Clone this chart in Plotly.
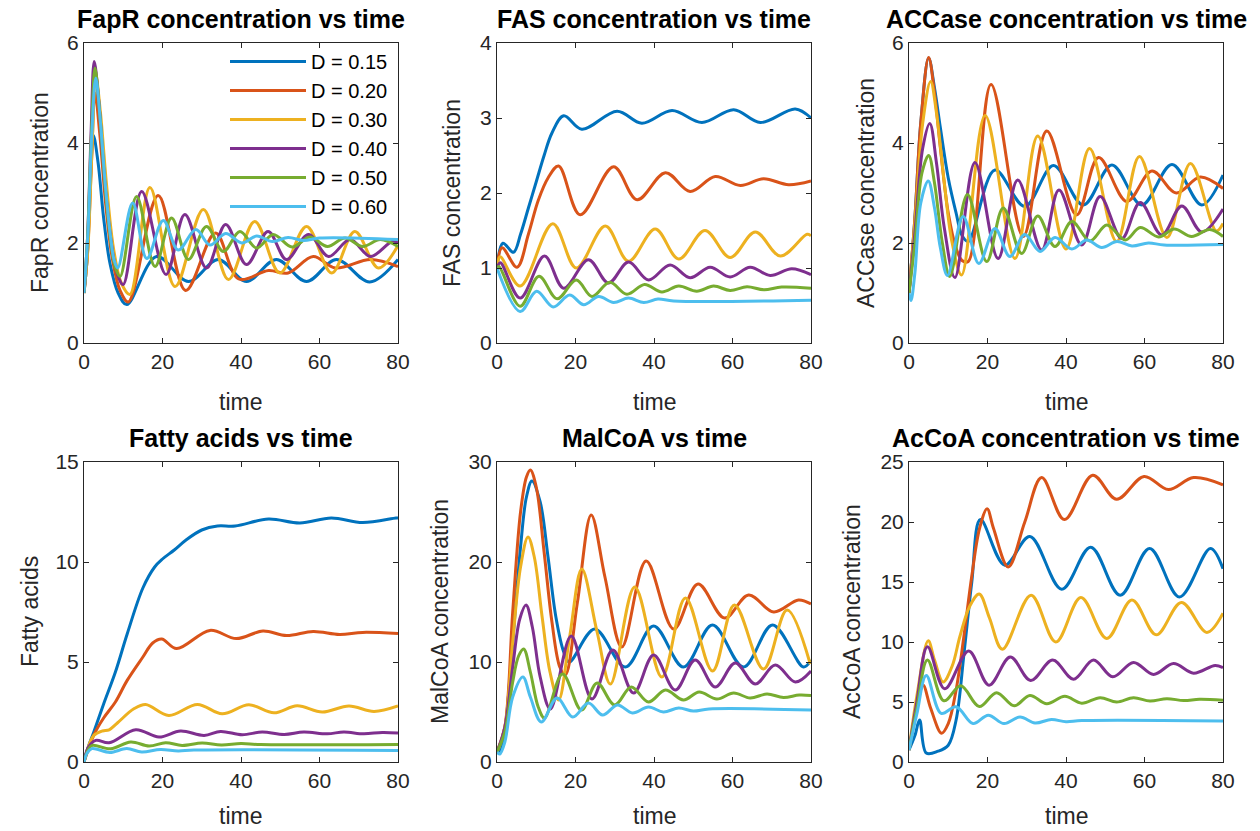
import plotly.graph_objects as go

D_LABELS = ["D = 0.15", "D = 0.20", "D = 0.30", "D = 0.40", "D = 0.50", "D = 0.60"]
COLORS = ["#0072BD", "#D95319", "#EDB120", "#7E2F8E", "#77AC30", "#4DBEEE"]

# ---------------- FapR ----------------
fapr_t_015 = [0, 0.8, 1.6, 2.4, 3.6, 5.0, 6.6, 8.7, 10.9, 18.5, 26.6, 34.2, 41.4, 49.0, 56.7, 64.3, 72.8, 80]
fapr_y_015 = [1.0, 1.7, 3.2, 4.15, 3.6, 2.5, 1.6, 1.0, 0.77, 1.73, 1.23, 1.67, 1.23, 1.67, 1.23, 1.67, 1.22, 1.67]
fapr_t_020 = [0, 0.9, 1.9, 2.8, 4.0, 5.5, 7.2, 9.2, 11.3, 18.9, 25.9, 33.5, 39.4, 47, 52, 58.4, 64, 73, 80]
fapr_y_020 = [1.0, 1.8, 3.6, 5.0, 4.2, 2.8, 1.7, 1.05, 0.82, 2.95, 1.05, 2.2, 1.28, 1.45, 1.4, 1.73, 1.5, 1.67, 1.53]
fapr_t_030 = [0, 1, 2, 3, 4.2, 5.7, 7.5, 9.5, 11.7, 16.8, 23.2, 30.4, 36.8, 43.5, 49.9, 56.7, 63.1, 69, 75, 80]
fapr_y_030 = [1.0, 1.9, 3.8, 5.35, 4.6, 3.2, 1.9, 1.2, 0.97, 3.11, 1.13, 2.67, 1.27, 2.43, 1.4, 2.33, 1.4, 2.23, 1.5, 1.95]
fapr_t_040 = [0, 0.9, 1.8, 2.6, 3.8, 5.2, 6.8, 8.4, 10, 14.7, 20.9, 25.7, 31.2, 36.1, 41.4, 46.9, 51.6, 57.2, 62.3, 67.8, 73, 78.5, 80]
fapr_y_040 = [1.0, 2.1, 4.2, 5.63, 4.8, 3.3, 2.1, 1.4, 1.17, 3.03, 1.37, 2.57, 1.5, 2.37, 1.57, 2.23, 1.67, 2.17, 1.73, 2.07, 1.73, 2.03, 2.0]
fapr_t_050 = [0, 0.9, 1.9, 2.8, 4, 5.3, 6.7, 8, 9.2, 13.4, 18.1, 22.3, 26.6, 31.2, 35.5, 39.7, 44, 48.2, 53, 57.6, 62, 66.5, 71, 75.5, 80]
fapr_y_050 = [1.0, 2.1, 4.2, 5.5, 4.6, 3.2, 2.1, 1.5, 1.33, 2.93, 1.53, 2.5, 1.67, 2.33, 1.83, 2.23, 1.9, 2.17, 1.92, 2.12, 1.93, 2.1, 1.93, 2.07, 1.93]
fapr_t_060 = [0, 1, 2, 3, 4.2, 5.5, 6.8, 7.7, 8.6, 12.4, 16, 20.2, 24, 28.5, 32.1, 36.1, 40.2, 44, 48, 52, 56, 60, 80]
fapr_y_060 = [1.0, 2.2, 4.2, 5.3, 4.4, 3.1, 2.1, 1.65, 1.5, 2.8, 1.69, 2.45, 1.86, 2.27, 1.96, 2.19, 2.0, 2.14, 2.03, 2.11, 2.05, 2.1, 2.07]

# ---------------- FAS ----------------
fas_t_015 = [0, 1.5, 4.2, 6, 8, 10, 12, 14, 17, 21.6, 30.6, 36.9, 44.6, 52.2, 60.3, 67.1, 76, 80]
fas_y_015 = [1.0, 1.33, 1.21, 1.45, 1.8, 2.15, 2.5, 2.8, 3.03, 2.85, 3.09, 2.93, 3.1, 2.94, 3.11, 2.94, 3.12, 3.0]
fas_t_020 = [0, 1.3, 5.1, 8, 10.5, 13, 15.7, 21.2, 29.7, 35.7, 42.9, 49.2, 55.6, 62, 67.9, 74.3, 80]
fas_y_020 = [1.0, 1.27, 1.01, 1.45, 1.9, 2.2, 2.36, 1.71, 2.35, 1.91, 2.27, 2.02, 2.22, 2.1, 2.19, 2.11, 2.16]
fas_t_030 = [0, 0.8, 5.9, 14.2, 20.2, 27.6, 33.5, 40.3, 46.3, 53, 59.4, 65.8, 72.2, 79, 80]
fas_y_030 = [1.0, 1.15, 0.76, 1.59, 1.0, 1.56, 1.09, 1.52, 1.12, 1.5, 1.14, 1.48, 1.16, 1.45, 1.43]
fas_t_040 = [0, 0.85, 5.9, 12.1, 17, 23.3, 28.4, 33.5, 38.6, 44.1, 49.2, 54.3, 59.4, 64.5, 69.6, 75.1, 80]
fas_y_040 = [1.0, 1.07, 0.6, 1.16, 0.73, 1.11, 0.8, 1.08, 0.84, 1.04, 0.87, 1.01, 0.88, 1.01, 0.9, 0.99, 0.91]
fas_t_050 = [0, 0.5, 5.9, 10.7, 15.3, 20.2, 24.2, 28.7, 33.1, 37.6, 42, 46.3, 50.9, 55.2, 59.4, 63.7, 68, 72.5, 80]
fas_y_050 = [1.0, 1.02, 0.49, 0.89, 0.59, 0.84, 0.62, 0.81, 0.65, 0.78, 0.68, 0.76, 0.69, 0.76, 0.7, 0.75, 0.71, 0.745, 0.73]
fas_t_060 = [0, 5.9, 10.1, 14.3, 18.5, 22.1, 25.9, 29.7, 33.5, 37.4, 41, 45, 80]
fas_y_060 = [1.0, 0.42, 0.69, 0.48, 0.64, 0.51, 0.62, 0.54, 0.6, 0.54, 0.585, 0.56, 0.57]

# ---------------- ACCase ----------------
acc_t_015 = [0, 1.5, 3, 5, 6.5, 8, 10, 12, 13.5, 15.1, 21.9, 29.5, 36.8, 44.4, 51.7, 59.3, 67, 74.6, 80]
acc_y_015 = [1.0, 2.5, 4.4, 5.7, 5.1, 4.3, 3.3, 2.6, 2.15, 2.03, 3.46, 2.73, 3.55, 2.76, 3.56, 2.76, 3.57, 2.76, 3.36]
acc_t_020 = [0, 1.5, 3, 5, 6.5, 8, 10, 12, 13.5, 15.1, 20.9, 29.1, 35.1, 42.7, 48.3, 55.5, 61.9, 68.1, 74.2, 80]
acc_y_020 = [1.0, 2.5, 4.4, 5.71, 5.0, 3.9, 2.6, 1.9, 1.65, 1.63, 5.17, 2.13, 4.24, 2.56, 3.71, 2.83, 3.44, 3.0, 3.32, 3.09]
acc_t_030 = [0, 1.5, 3.5, 5.5, 7, 9, 11, 13.4, 19.4, 27, 32.8, 40, 46, 52.9, 58.7, 65.7, 71.7, 78.3, 80]
acc_y_030 = [1.0, 2.4, 4.4, 5.23, 4.6, 3.2, 2.0, 1.36, 4.55, 1.69, 4.14, 1.88, 3.89, 2.03, 3.73, 2.11, 3.59, 2.24, 2.39]
acc_t_040 = [0, 1.5, 3.5, 5.3, 7, 9, 11.7, 16.8, 22.7, 27.7, 33.8, 38.2, 44, 48.7, 54.2, 58.9, 64.4, 69.5, 74.6, 80]
acc_y_040 = [1.0, 2.2, 3.9, 4.39, 3.6, 2.3, 1.31, 3.61, 1.69, 3.26, 1.86, 3.06, 1.96, 2.93, 2.09, 2.81, 2.16, 2.74, 2.22, 2.68]
acc_t_050 = [0, 1.5, 3.3, 5, 6.5, 8.5, 10.4, 14.9, 19.8, 24, 28.7, 32.8, 37.2, 41.5, 46.1, 50.4, 55.1, 58.9, 63.6, 67.6, 72, 76.6, 80]
acc_y_050 = [1.0, 2.0, 3.4, 3.75, 3.2, 2.0, 1.33, 2.97, 1.63, 2.7, 1.79, 2.54, 1.93, 2.43, 2.04, 2.36, 2.06, 2.31, 2.12, 2.28, 2.13, 2.27, 2.13]
acc_t_060 = [0, 0.5, 1.5, 3, 4.9, 6.5, 8, 9.8, 13.8, 17.8, 21.9, 25.7, 29.5, 33.4, 37.2, 41.5, 45.3, 49.1, 53, 56.8, 61, 65, 80]
acc_y_060 = [1.0, 0.85, 1.4, 2.8, 3.24, 2.7, 1.9, 1.35, 2.53, 1.59, 2.29, 1.73, 2.17, 1.83, 2.11, 1.88, 2.06, 1.91, 2.03, 1.94, 2.0, 1.96, 1.97]

# ---------------- Fatty acids ----------------
fa_t_015 = [0, 1, 2.5, 5, 8, 11, 15, 18, 20, 23, 26, 30, 34, 38.5, 47, 55, 63, 71, 79.5, 80]
fa_y_015 = [0.0, 0.7, 1.5, 2.9, 4.5, 6.4, 8.7, 9.75, 10.15, 10.6, 11.1, 11.6, 11.8, 11.8, 12.15, 11.95, 12.2, 11.97, 12.2, 12.2]
fa_t_020 = [0, 2.5, 5, 8, 11, 15, 17.5, 19.8, 23.6, 32.1, 38.8, 45.6, 51.6, 58.4, 65.1, 71, 80]
fa_y_020 = [0.0, 1.35, 2.2, 3.0, 4.08, 5.25, 5.95, 6.15, 5.67, 6.58, 6.17, 6.55, 6.32, 6.53, 6.38, 6.48, 6.42]
fa_t_030 = [0, 1, 2.5, 4.7, 6.4, 8.5, 12.7, 15.7, 21.6, 28.9, 35.2, 42, 48.4, 54.3, 60.7, 67.5, 73.9, 80]
fa_y_030 = [0.0, 0.7, 1.33, 1.55, 1.61, 1.95, 2.66, 2.88, 2.33, 2.88, 2.41, 2.86, 2.46, 2.81, 2.5, 2.8, 2.53, 2.8]
fa_t_040 = [0, 1, 3, 6.4, 13.2, 19.1, 24.6, 30.6, 34.8, 40.3, 45.4, 51, 56, 62, 66.2, 71.3, 76, 80]
fa_y_040 = [0.0, 0.7, 1.08, 0.96, 1.61, 1.25, 1.55, 1.33, 1.53, 1.36, 1.5, 1.38, 1.5, 1.41, 1.5, 1.41, 1.48, 1.45]
fa_t_050 = [0, 1, 2.1, 6.8, 11.9, 16.6, 20.8, 25, 30.1, 35, 40, 45, 80]
fa_y_050 = [0.0, 0.6, 0.83, 0.66, 1.0, 0.8, 0.96, 0.83, 0.95, 0.85, 0.92, 0.87, 0.88]
fa_t_060 = [0, 0.8, 2, 6.6, 10.9, 14.7, 19.5, 24, 28, 80]
fa_y_060 = [0.0, 0.45, 0.67, 0.48, 0.67, 0.5, 0.63, 0.55, 0.6, 0.58]

# ---------------- MalCoA ----------------
mal_t_015 = [0, 1, 2, 4, 6, 7.5, 8.9, 11, 13, 15, 17, 18.4, 24.9, 32.7, 39.9, 47.5, 54.9, 62.8, 70.2, 78.1, 80]
mal_y_015 = [1.0, 1.2, 3.0, 12.0, 21.5, 26.5, 28.1, 26.0, 20.5, 14.5, 11.0, 10.0, 13.3, 9.5, 13.6, 9.5, 13.7, 9.5, 13.7, 9.5, 10.2]
mal_t_020 = [0, 2, 4, 6, 7.5, 8.5, 10, 12, 14, 16, 17.4, 20.5, 24, 27.5, 31.8, 38, 45, 51.2, 58, 64.1, 70.5, 76.8, 80]
mal_y_020 = [1.0, 3.5, 15.0, 25.0, 28.5, 29.2, 27.5, 21.0, 14.0, 9.5, 8.7, 16.0, 24.7, 18.5, 11.5, 20.1, 13.3, 17.8, 14.4, 16.7, 15.0, 16.2, 15.8]
mal_t_030 = [0, 2, 4, 6, 7.9, 9.5, 11.5, 13.5, 15.7, 18.5, 21.6, 25.5, 28.9, 35.1, 42, 48, 54.9, 60.5, 67.9, 73.9, 79.8]
mal_y_030 = [1.0, 3.5, 12.0, 19.5, 22.5, 20.5, 14.5, 9.0, 6.2, 12.5, 19.3, 13.0, 7.8, 17.5, 8.5, 16.4, 9.1, 15.7, 9.3, 15.2, 9.8]
mal_t_040 = [0, 2, 4, 5.8, 7.4, 9, 11, 13.6, 18.9, 24.2, 29.5, 34.8, 39.9, 45.4, 50.5, 55.6, 60.7, 65.8, 70.9, 76, 80]
mal_y_040 = [1.0, 3.5, 9.5, 14.3, 15.7, 13.5, 8.5, 5.3, 12.6, 6.3, 11.2, 6.9, 10.7, 7.2, 10.2, 7.5, 9.9, 7.8, 9.7, 8.0, 9.1]
mal_t_050 = [0, 2, 4, 5.5, 6.8, 8.5, 10.5, 12.1, 16.7, 21.5, 25.5, 30, 34.2, 38.6, 42.9, 47.5, 51.5, 56, 60.3, 64.5, 68.8, 73, 77, 80]
mal_y_050 = [1.0, 3.0, 8.0, 10.6, 11.3, 9.0, 5.5, 4.4, 8.8, 5.2, 7.9, 5.7, 7.5, 6.0, 7.2, 6.2, 7.0, 6.3, 6.9, 6.4, 6.8, 6.45, 6.7, 6.65]
mal_t_060 = [0, 0.7, 2, 4, 6.6, 8.5, 11.3, 15.3, 19.3, 23.3, 26.9, 30.7, 34.5, 38.6, 42.4, 46.3, 50, 54, 80]
mal_y_060 = [1.0, 0.8, 2.0, 6.5, 8.5, 6.5, 4.0, 6.4, 4.5, 5.9, 4.7, 5.7, 4.9, 5.5, 5.0, 5.4, 5.1, 5.3, 5.2]

# ---------------- AcCoA ----------------
aca_t_015 = [0, 1.5, 2.7, 4.4, 7.4, 10, 12, 14, 16, 18.2, 24.4, 30.8, 38.9, 46.3, 53.8, 61.3, 68.9, 76.8, 80]
aca_y_015 = [1.0, 2.2, 3.5, 0.75, 0.9, 1.4, 3.5, 9.0, 15.0, 20.2, 16.4, 18.8, 14.4, 17.9, 13.9, 17.8, 13.75, 17.8, 16.1]
aca_t_020 = [0, 2, 3.6, 5.5, 8.3, 10, 12, 14, 16, 18, 19.9, 21.5, 25.3, 29.5, 33.8, 39.6, 46.8, 52.9, 59.9, 66.1, 72.5, 80]
aca_y_020 = [1.0, 4.5, 6.4, 4.5, 2.4, 3.2, 6.0, 10.5, 15.5, 19.5, 21.1, 19.5, 16.25, 20.0, 23.7, 20.2, 23.9, 21.9, 23.8, 22.7, 23.7, 23.1]
aca_t_030 = [0, 2, 4.9, 6.5, 8.7, 11, 13, 15.5, 17.9, 20.5, 23.8, 31.1, 37.4, 43.8, 50.4, 56.8, 63, 69.4, 75.9, 80]
aca_y_030 = [1.0, 5.5, 10.1, 8.5, 6.67, 8.0, 10.5, 13.0, 14.0, 12.0, 9.4, 13.9, 10.0, 13.7, 10.3, 13.5, 10.6, 13.3, 10.8, 12.4]
aca_t_040 = [0, 2, 4.7, 9.1, 15.2, 20.4, 25.8, 31, 36.6, 41.9, 47, 51.9, 57.2, 62.3, 67.4, 72.5, 78, 80]
aca_y_040 = [1.0, 5.0, 9.6, 6.1, 9.25, 6.4, 8.75, 6.8, 8.5, 6.9, 8.5, 7.1, 8.3, 7.3, 8.2, 7.4, 8.05, 7.86]
aca_t_050 = [0, 2, 4.7, 8.9, 13.2, 17.9, 22.3, 26.8, 30.8, 35.1, 39.7, 44, 48.7, 52.9, 57.2, 61.4, 65.7, 70, 74, 80]
aca_y_050 = [1.0, 4.5, 8.5, 5.1, 6.35, 4.62, 5.78, 4.68, 5.55, 4.86, 5.47, 4.9, 5.36, 5.0, 5.36, 5.08, 5.28, 5.12, 5.22, 5.14]
aca_t_060 = [0, 2, 4.4, 8.2, 12, 16.3, 20.2, 24.2, 28.3, 32.1, 36.3, 40, 44, 80]
aca_y_060 = [1.0, 4.0, 7.2, 4.05, 4.6, 3.2, 3.9, 3.2, 3.75, 3.25, 3.55, 3.35, 3.45, 3.42]

PANELS = [
    ([fapr_t_015, fapr_t_020, fapr_t_030, fapr_t_040, fapr_t_050, fapr_t_060],
     [fapr_y_015, fapr_y_020, fapr_y_030, fapr_y_040, fapr_y_050, fapr_y_060]),
    ([fas_t_015, fas_t_020, fas_t_030, fas_t_040, fas_t_050, fas_t_060],
     [fas_y_015, fas_y_020, fas_y_030, fas_y_040, fas_y_050, fas_y_060]),
    ([acc_t_015, acc_t_020, acc_t_030, acc_t_040, acc_t_050, acc_t_060],
     [acc_y_015, acc_y_020, acc_y_030, acc_y_040, acc_y_050, acc_y_060]),
    ([fa_t_015, fa_t_020, fa_t_030, fa_t_040, fa_t_050, fa_t_060],
     [fa_y_015, fa_y_020, fa_y_030, fa_y_040, fa_y_050, fa_y_060]),
    ([mal_t_015, mal_t_020, mal_t_030, mal_t_040, mal_t_050, mal_t_060],
     [mal_y_015, mal_y_020, mal_y_030, mal_y_040, mal_y_050, mal_y_060]),
    ([aca_t_015, aca_t_020, aca_t_030, aca_t_040, aca_t_050, aca_t_060],
     [aca_y_015, aca_y_020, aca_y_030, aca_y_040, aca_y_050, aca_y_060]),
]

TITLES = ["FapR concentration vs time", "FAS concentration vs time", "ACCase concentration vs time",
          "Fatty acids vs time", "MalCoA vs time", "AcCoA concentration vs time"]
YLABELS = ["FapR concentration", "FAS concentration", "ACCase concentration",
           "Fatty acids", "MalCoA concentration", "AcCoA concentration"]
X_TICKS = [0, 20, 40, 60, 80]
Y_RANGES = [[0, 6], [0, 4], [0, 6], [0, 15], [0, 30], [0, 25]]
Y_TICKS = [[0, 2, 4, 6], [0, 1, 2, 3, 4], [0, 2, 4, 6], [0, 5, 10, 15], [0, 10, 20, 30], [0, 5, 10, 15, 20, 25]]

W, H = 1260, 831
X_PIX = [(84, 398), (497, 811), (909, 1223)]
Y_PIX = [(43, 343), (462, 762)]
YLAB_X = [40, 452, 866, 30, 440, 852]

FONT = "Liberation Sans, Arial, Helvetica, sans-serif"
AX_COLOR = "#262626"

fig = go.Figure()
annotations = []
layout = {}
for i, (ts, ys) in enumerate(PANELS):
    r, c = divmod(i, 3)
    xa = "x" if i == 0 else f"x{i+1}"
    ya = "y" if i == 0 else f"y{i+1}"
    for k in range(6):
        fig.add_trace(go.Scatter(
            x=ts[k], y=ys[k], mode="lines", name=D_LABELS[k],
            line=dict(color=COLORS[k], width=3, shape="spline", smoothing=1.0),
            xaxis=xa, yaxis=ya, showlegend=(i == 0),
        ))
    x0, x1 = X_PIX[c]
    y0, y1 = Y_PIX[r]
    common = dict(showline=True, linecolor=AX_COLOR, linewidth=1, mirror="ticks",
                  ticks="inside", ticklen=5, tickcolor=AX_COLOR, showgrid=False,
                  zeroline=False, automargin=False,
                  tickfont=dict(family=FONT, size=21, color=AX_COLOR))
    layout["xaxis" if i == 0 else f"xaxis{i+1}"] = dict(
        domain=[x0 / W, x1 / W], range=[0, 80], tickvals=X_TICKS, anchor=ya, **common)
    layout["yaxis" if i == 0 else f"yaxis{i+1}"] = dict(
        domain=[1 - y1 / H, 1 - y0 / H], range=Y_RANGES[i], tickvals=Y_TICKS[i], anchor=xa, **common)
    xc = (x0 + x1) / 2 / W
    annotations.append(dict(text=f"<b>{TITLES[i]}</b>", x=xc, y=1 - (y0 - 24) / H,
                            xref="paper", yref="paper", xanchor="center", yanchor="middle",
                            showarrow=False, font=dict(family=FONT, size=25, color="black")))
    if r == 0:
        annotations.append(dict(text="time", x=xc, y=1 - (y1 + 59) / H,
                                xref="paper", yref="paper", xanchor="center", yanchor="middle",
                                showarrow=False, font=dict(family=FONT, size=23, color=AX_COLOR)))
    else:
        annotations.append(dict(text="time", x=xc, y=0.0,
                                xref="paper", yref="paper", xanchor="center", yanchor="bottom",
                                showarrow=False, font=dict(family=FONT, size=23, color=AX_COLOR)))
    annotations.append(dict(text=YLABELS[i], x=YLAB_X[i] / W, y=1 - (y0 + y1) / 2 / H,
                            xref="paper", yref="paper", xanchor="center", yanchor="middle",
                            textangle=-90, showarrow=False,
                            font=dict(family=FONT, size=23, color=AX_COLOR)))

fig.update_layout(
    width=W, height=H, margin=dict(l=0, r=0, t=0, b=0, autoexpand=False),
    paper_bgcolor="white", plot_bgcolor="white",
    annotations=annotations,
    legend=dict(x=225 / W, y=1 - 42 / H, xanchor="left", yanchor="top",
                bgcolor="rgba(0,0,0,0)", borderwidth=0, itemwidth=76,
                font=dict(family=FONT, size=20, color="black"), tracegroupgap=0),
    **layout,
)

fig.write_html("out.html")
